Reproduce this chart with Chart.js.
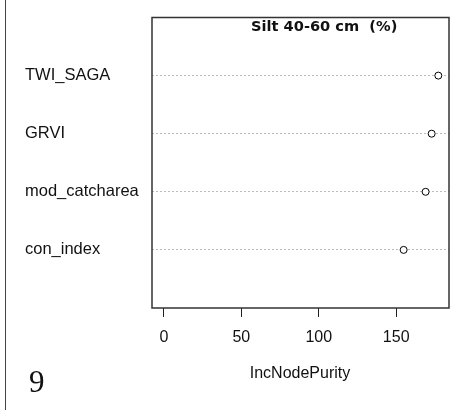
<!DOCTYPE html>
<html>
<head>
<meta charset="utf-8">
<script src="https://cdn.jsdelivr.net/npm/chart.js@4"></script>
<style>
  html, body { margin: 0; padding: 0; background: #fff; }
  #wrap { position: relative; width: 465px; height: 410px; overflow: hidden; }
  #edge { position: absolute; left: 5px; top: 0; width: 1px; height: 410px; background: #444; }
  canvas { position: absolute; left: 0; top: 0; }
</style>
</head>
<body>
<div id="wrap">
  <div id="edge"></div>
  <canvas id="chart" width="465" height="410"></canvas>
</div>
<script>
// variables, bottom to top (as in the dotchart)
const variables = ['con_index', 'mod_catcharea', 'GRVI', 'TWI_SAGA'];
const purity = [154.8, 169.0, 172.9, 177.2];
const xTicks = [0, 50, 100, 150];
const chartTitle = 'Silt 40-60 cm  (%)';
const xTitle = 'IncNodePurity';
const panelNo = '9';

const points = purity.map((v, i) => ({ x: v, y: i + 1 }));

// box + titles, drawn like base R graphics
const boxPlugin = {
  id: 'box',
  afterDraw(chart) {
    const { ctx, chartArea: a } = chart;
    ctx.save();
    ctx.strokeStyle = '#333';
    ctx.lineWidth = 1.5;
    ctx.strokeRect(a.left, a.top, a.right - a.left, a.bottom - a.top);
    ctx.fillStyle = '#111';
    ctx.textBaseline = 'middle';
    ctx.textAlign = 'left';
    ctx.font = 'bold 14.6px "DejaVu Sans"';
    ctx.fillText(chartTitle, 251, 27);
    ctx.textAlign = 'center';
    ctx.font = '16px "Liberation Sans"';
    ctx.fillText(xTitle, 300, 374);
    ctx.textAlign = 'left';
    ctx.textBaseline = 'alphabetic';
    ctx.font = '31px "Liberation Serif"';
    ctx.fillText(panelNo, 29, 392);
    ctx.restore();
  }
};

new Chart(document.getElementById('chart'), {
  type: 'scatter',
  data: {
    datasets: [{
      data: points,
      pointStyle: 'circle',
      pointRadius: 3.5,
      pointBorderWidth: 1,
      pointBorderColor: '#000',
      pointBackgroundColor: '#fff'
    }]
  },
  options: {
    responsive: false,
    animation: false,
    layout: { padding: { left: 25, right: 16, top: 17.5, bottom: 0 } },
    plugins: { legend: { display: false }, tooltip: { enabled: false } },
    scales: {
      x: {
        type: 'linear',
        min: -7.7, max: 184.1,
        afterBuildTicks: s => { s.ticks = xTicks.map(v => ({ value: v })); },
        afterFit: s => { s.height = 102; },
        border: { display: false },
        grid: { drawOnChartArea: false, drawTicks: true, tickLength: 9, color: '#222', lineWidth: 1 },
        ticks: { color: '#111', font: { family: 'Liberation Sans', size: 16 }, padding: 11, maxRotation: 0 }
      },
      y: {
        type: 'linear',
        min: 0, max: 5,
        afterBuildTicks: s => { s.ticks = variables.map((_, i) => ({ value: i + 1 })); },
        afterFit: s => { s.width = 127; },
        border: { display: false, dash: [2, 2] },
        grid: { drawTicks: false, color: '#bbb', lineWidth: 1 },
        ticks: {
          color: '#111',
          crossAlign: 'far',
          padding: 0,
          font: { family: 'Liberation Sans', size: 16.5 },
          callback: v => variables[v - 1] || ''
        }
      }
    }
  },
  plugins: [boxPlugin]
});
</script>
</body>
</html>
